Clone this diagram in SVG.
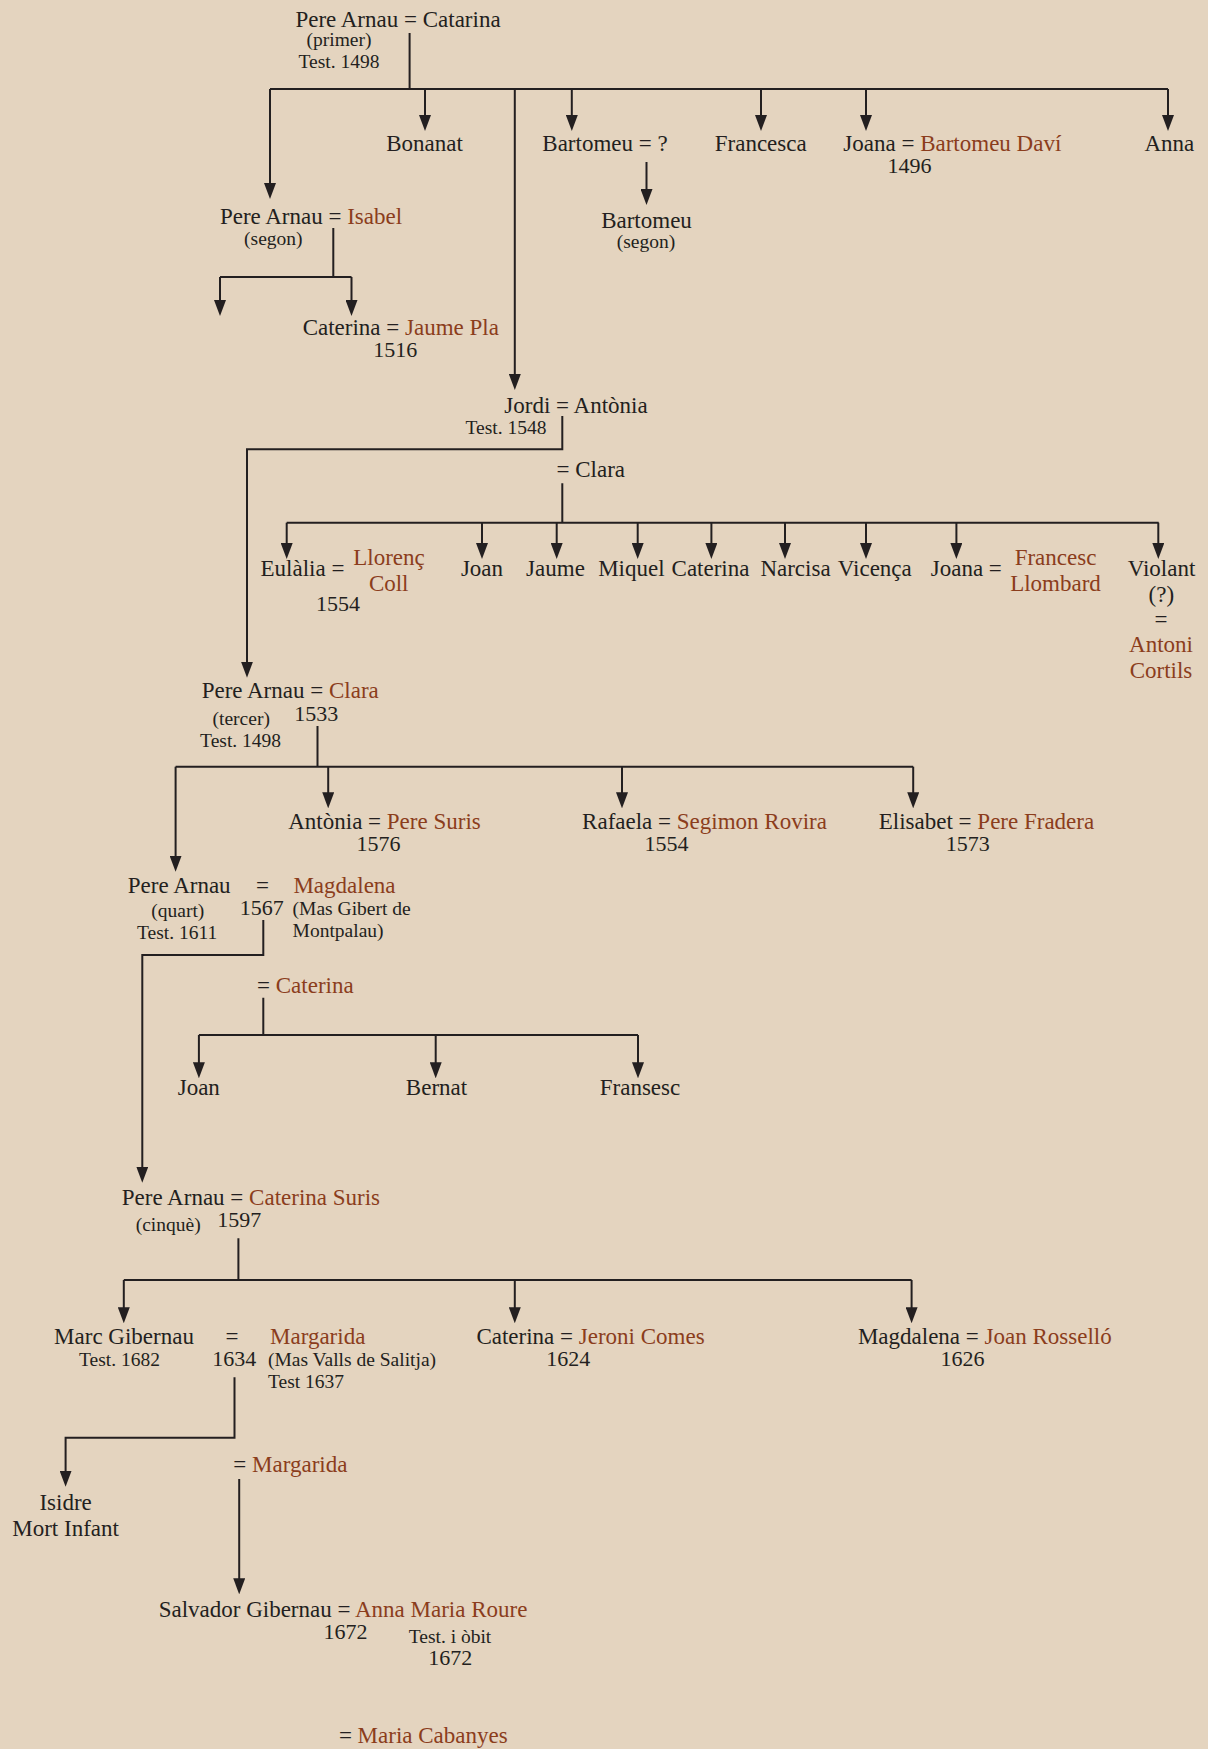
<svg xmlns="http://www.w3.org/2000/svg" width="1208" height="1749" viewBox="0 0 1208 1749">
<defs>
<style>
text{font-family:"Liberation Serif","Times New Roman",serif;fill:#231f20;font-size:23px}
.m{text-anchor:middle}
.s{font-size:19.5px}
.d{font-size:22px}
.b{fill:#8b3d1c}
.c path{fill:none;stroke:#231f20;stroke-width:2}
.c path.a{marker-end:url(#ar)}
</style>
<marker id="ar" viewBox="0 0 16 12" refX="10" refY="6" markerWidth="16" markerHeight="12" markerUnits="userSpaceOnUse" orient="auto">
<path d="M0,0 L16,6 L0,12 z" fill="#231f20"/>
</marker>
</defs>
<rect width="1208" height="1749" fill="#e4d4bf"/>
<g id="connectors" class="c">
<path d="M409.6,33 V89 M270,89 H1168"/>
<path class="a" d="M270,89 V193"/>
<path class="a" d="M425,89 V125"/>
<path class="a" d="M514.8,89 V384"/>
<path class="a" d="M571.8,89 V125"/>
<path class="a" d="M761,89 V125"/>
<path class="a" d="M866,89 V125"/>
<path class="a" d="M1168,89 V125"/>
<path class="a" d="M646.5,162 V199"/>
<path d="M333.3,228 V277 M220,277 H351.5"/>
<path class="a" d="M220,277 V310"/>
<path class="a" d="M351.5,277 V310"/>
<path class="a" d="M562.3,416 V449.3 H247 V671.7"/>
<path d="M562.3,483.3 V522.7 M286.7,522.7 H1158.7"/>
<path class="a" d="M286.7,522.7 V553"/>
<path class="a" d="M482,522.7 V553"/>
<path class="a" d="M556.7,522.7 V553"/>
<path class="a" d="M637.7,522.7 V553"/>
<path class="a" d="M711.4,522.7 V553"/>
<path class="a" d="M785,522.7 V553"/>
<path class="a" d="M866,522.7 V553"/>
<path class="a" d="M956.4,522.7 V553"/>
<path class="a" d="M1158.3,522.7 V553"/>
<path d="M317.5,726 V766.7 M175.6,766.7 H913.2"/>
<path class="a" d="M175.6,766.7 V865.7"/>
<path class="a" d="M328.2,766.7 V802.3"/>
<path class="a" d="M622,766.7 V802.3"/>
<path class="a" d="M913.2,766.7 V802.3"/>
<path class="a" d="M263.3,920 V955 H142.3 V1176.7"/>
<path d="M263.3,997.7 V1035 M198.9,1035 H638"/>
<path class="a" d="M198.9,1035 V1072.3"/>
<path class="a" d="M435.7,1035 V1072.3"/>
<path class="a" d="M638,1035 V1072.3"/>
<path d="M238.4,1238.3 V1280 M123.8,1280 H911.6"/>
<path class="a" d="M123.8,1280 V1317.3"/>
<path class="a" d="M514.8,1280 V1317.3"/>
<path class="a" d="M911.6,1280 V1317.3"/>
<path class="a" d="M234.5,1377.3 V1437.7 H65.6 V1480.7"/>
<path class="a" d="M239.2,1479 V1588.3"/>
</g>
<g id="n-pere-arnau-1">
<text x="398" y="27" class="m">Pere Arnau = Catarina</text>
<text x="339" y="46" class="m s">(primer)</text>
<text x="339" y="68" class="m s">Test. 1498</text>
</g>
<g id="n-bonanat"><text x="424.5" y="151" class="m">Bonanat</text></g>
<g id="n-bartomeu"><text x="605" y="151" class="m">Bartomeu = ?</text></g>
<g id="n-bartomeu-2">
<text x="646.5" y="227.5" class="m">Bartomeu</text>
<text x="646" y="248" class="m s">(segon)</text>
</g>
<g id="n-francesca"><text x="760.7" y="151" class="m">Francesca</text></g>
<g id="n-joana-1">
<text x="952.3" y="150.5" class="m">Joana = <tspan class="b">Bartomeu Daví</tspan></text>
<text x="909.6" y="172.5" class="m d">1496</text>
</g>
<g id="n-anna"><text x="1169.3" y="151" class="m">Anna</text></g>
<g id="n-pere-arnau-2">
<text x="311" y="223.5" class="m">Pere Arnau = <tspan class="b">Isabel</tspan></text>
<text x="273.3" y="245" class="m s">(segon)</text>
</g>
<g id="n-caterina-1">
<text x="400.8" y="334.5" class="m">Caterina = <tspan class="b">Jaume Pla</tspan></text>
<text x="395.3" y="357" class="m d">1516</text>
</g>
<g id="n-jordi">
<text x="576" y="412.5" class="m">Jordi = Antònia</text>
<text x="506" y="433.5" class="m s">Test. 1548</text>
<text x="590.8" y="476.7" class="m">= Clara</text>
</g>
<g id="n-eulalia">
<text x="302.5" y="576" class="m">Eulàlia =</text>
<text x="389" y="565" class="m b">Llorenç</text>
<text x="388.7" y="590.7" class="m b">Coll</text>
<text x="338" y="611" class="m d">1554</text>
</g>
<g id="n-joan-1"><text x="482" y="576" class="m">Joan</text></g>
<g id="n-jaume"><text x="555.5" y="576" class="m">Jaume</text></g>
<g id="n-miquel"><text x="631.4" y="576" class="m">Miquel</text></g>
<g id="n-caterina-2"><text x="710.5" y="576" class="m">Caterina</text></g>
<g id="n-narcisa"><text x="795.5" y="576" class="m">Narcisa</text></g>
<g id="n-vicenca"><text x="874.8" y="576" class="m">Vicença</text></g>
<g id="n-joana-2">
<text x="966.3" y="576" class="m">Joana =</text>
<text x="1055.5" y="565" class="m b">Francesc</text>
<text x="1055.5" y="590.7" class="m b">Llombard</text>
</g>
<g id="n-violant">
<text x="1161.5" y="576" class="m">Violant</text>
<text x="1161.3" y="602" class="m">(?)</text>
<text x="1161" y="627" class="m">=</text>
<text x="1161" y="652.3" class="m b">Antoni</text>
<text x="1161" y="678.3" class="m b">Cortils</text>
</g>
<g id="n-pere-arnau-3">
<text x="290.2" y="698.3" class="m">Pere Arnau = <tspan class="b">Clara</tspan></text>
<text x="241.2" y="725" class="m s">(tercer)</text>
<text x="316.3" y="720.7" class="m d">1533</text>
<text x="240.6" y="747" class="m s">Test. 1498</text>
</g>
<g id="n-antonia">
<text x="384.5" y="829.3" class="m">Antònia = <tspan class="b">Pere Suris</tspan></text>
<text x="378.5" y="851" class="m d">1576</text>
</g>
<g id="n-rafaela">
<text x="704.5" y="829.3" class="m">Rafaela = <tspan class="b">Segimon Rovira</tspan></text>
<text x="666.5" y="851" class="m d">1554</text>
</g>
<g id="n-elisabet">
<text x="986.5" y="829.3" class="m">Elisabet = <tspan class="b">Pere Fradera</tspan></text>
<text x="967.8" y="851" class="m d">1573</text>
</g>
<g id="n-pere-arnau-4">
<text x="179.2" y="893.3" class="m">Pere Arnau</text>
<text x="262.5" y="893.3" class="m">=</text>
<text x="293.4" y="893.3" class="b">Magdalena</text>
<text x="177.8" y="916.7" class="m s">(quart)</text>
<text x="261.8" y="915" class="m d">1567</text>
<text x="292.6" y="915" class="s">(Mas Gibert de</text>
<text x="292.6" y="936.7" class="s">Montpalau)</text>
<text x="177.1" y="939" class="m s">Test. 1611</text>
<text x="257" y="993.3">= <tspan class="b">Caterina</tspan></text>
</g>
<g id="n-joan-2"><text x="198.8" y="1095" class="m">Joan</text></g>
<g id="n-bernat"><text x="436.5" y="1095" class="m">Bernat</text></g>
<g id="n-fransesc"><text x="640" y="1095" class="m">Fransesc</text></g>
<g id="n-pere-arnau-5">
<text x="250.9" y="1205" class="m">Pere Arnau = <tspan class="b">Caterina Suris</tspan></text>
<text x="168.2" y="1230.7" class="m s">(cinquè)</text>
<text x="239.2" y="1227.3" class="m d">1597</text>
</g>
<g id="n-marc">
<text x="124" y="1344" class="m">Marc Gibernau</text>
<text x="232" y="1344" class="m">=</text>
<text x="270" y="1344" class="b">Margarida</text>
<text x="119.5" y="1365.7" class="m s">Test. 1682</text>
<text x="234.2" y="1365.7" class="m d">1634</text>
<text x="268" y="1365.7" class="s">(Mas Valls de Salitja)</text>
<text x="268" y="1388.3" class="s">Test 1637</text>
<text x="233.3" y="1471.7">= <tspan class="b">Margarida</tspan></text>
</g>
<g id="n-caterina-3">
<text x="590.5" y="1344" class="m">Caterina = <tspan class="b">Jeroni Comes</tspan></text>
<text x="568.2" y="1365.7" class="m d">1624</text>
</g>
<g id="n-magdalena">
<text x="984.8" y="1344" class="m">Magdalena = <tspan class="b">Joan Rosselló</tspan></text>
<text x="962.4" y="1365.7" class="m d">1626</text>
</g>
<g id="n-isidre">
<text x="65.6" y="1510" class="m">Isidre</text>
<text x="65.6" y="1535.7" class="m">Mort Infant</text>
</g>
<g id="n-salvador">
<text x="343" y="1617.3" class="m">Salvador Gibernau = <tspan class="b">Anna Maria Roure</tspan></text>
<text x="345.5" y="1639.3" class="m d">1672</text>
<text x="450" y="1643.3" class="m s">Test. i òbit</text>
<text x="450.3" y="1665" class="m d">1672</text>
<text x="423.3" y="1743.3" class="m">= <tspan class="b">Maria Cabanyes</tspan></text>
</g>
</svg>
